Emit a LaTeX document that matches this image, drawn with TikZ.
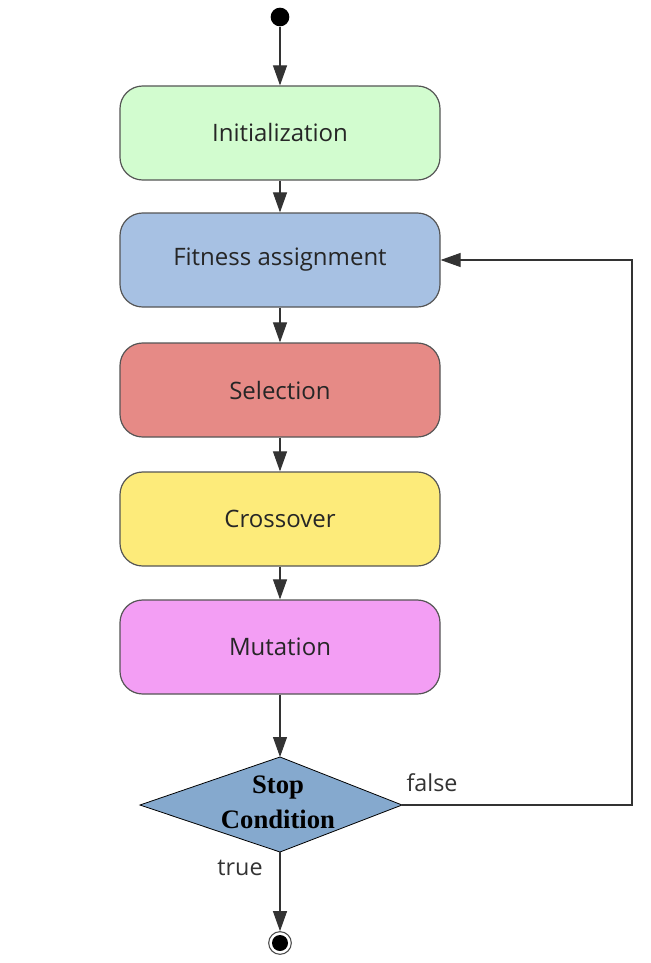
\documentclass[tikz,border=0pt]{standalone}
\usepackage{fontspec}
\setmainfont{Open Sans}
\newfontfamily\condfont{Liberation Serif}
\usetikzlibrary{arrows.meta}
\definecolor{initgreen}{HTML}{D2FCCF}
\definecolor{fitblue}{HTML}{A7C1E3}
\definecolor{selred}{HTML}{E68A86}
\definecolor{crossyellow}{HTML}{FDEB7A}
\definecolor{mutpink}{HTML}{F39EF4}
\definecolor{condblue}{HTML}{85A9CE}
\definecolor{edgegray}{HTML}{555555}

\begin{document}
\begin{tikzpicture}[x=0.75pt,y=-0.75pt,
    stage/.style={draw=edgegray,line width=0.9pt,rounded corners=17pt,
        minimum width=240pt,minimum height=70.5pt,inner sep=0pt,
        font=\fontsize{18}{22}\selectfont,text=black!85},
    flow/.style={draw=black!80,line width=0.8pt,
        -{Triangle[length=15pt,width=10.5pt]}},
    guard/.style={font=\fontsize{17.5}{20}\selectfont,text=black!80}]
    \useasboundingbox (0,0) rectangle (650,963);

    \node[circle,fill=black,inner sep=0pt,minimum size=14pt] (start) at (280,17) {};

    \node[stage,fill=initgreen] (init) at (280,133) {Initialization};
    \node[stage,fill=fitblue] (fit) at (280,260) {Fitness assignment};
    \node[stage,fill=selred] (sel) at (280,390) {Selection};
    \node[stage,fill=crossyellow] (cross) at (280,519) {Crossover};
    \node[stage,fill=mutpink] (mut) at (280,647) {Mutation};

    % stop condition
    \coordinate (cond-n) at (280,757);
    \coordinate (cond-e) at (402,805);
    \coordinate (cond-s) at (280,852);
    \coordinate (cond-w) at (140,805);
    \draw[fill=condblue,draw=black,line width=0.6pt]
        (cond-n) -- (cond-e) -- (cond-s) -- (cond-w) -- cycle;
    \node[align=center,font=\condfont\bfseries\fontsize{20}{26}\selectfont]
        (cond) at (278,802) {Stop\\Condition};

    \node[circle,draw=black!70,line width=0.8pt,inner sep=0pt,minimum size=17pt] (stop) at (280,943) {};
    \node[circle,fill=black,inner sep=0pt,minimum size=12pt] at (stop) {};

    \coordinate (loop-s) at (632,805);
    \coordinate (loop-n) at (632,260);

    \draw[flow] (start) -- (init);
    \draw[flow] (init) -- (fit);
    \draw[flow] (fit) -- (sel);
    \draw[flow] (sel) -- (cross);
    \draw[flow] (cross) -- (mut);
    \draw[flow] (mut) -- (cond-n);
    \draw[flow] (cond-s) -- (stop);
    \draw[flow] (cond-e) -- (loop-s) -- (loop-n) -- (fit.east);

    \node[guard] (false) at (432,783) {false};
    \node[guard] (true) at (240,868) {true};
\end{tikzpicture}
\end{document}
